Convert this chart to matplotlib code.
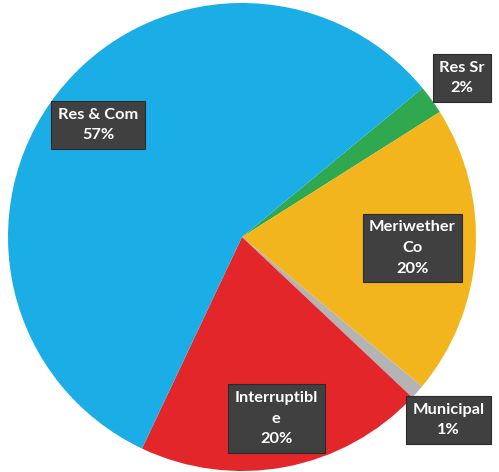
import matplotlib.pyplot as plt
import numpy as np

# Share of gas sales by customer class
labels = ["Res Sr", "Meriwether\nCo", "Municipal", "Interruptibl\ne", "Res & Com"]
shares = [2, 20, 1, 20, 57]
colors = ["#2fa84f", "#f3b51d", "#b4b4b4", "#e3262a", "#1badE6"]
label_dist = [1.16, 0.73, 1.18, 0.79, 0.78]

fig = plt.figure(figsize=(4.99, 4.72), dpi=100)
ax = fig.add_axes([0, 0, 1, 1])

wedges, _ = ax.pie(shares, colors=colors, startangle=39.5, counterclock=False,
                   radius=1.0, wedgeprops=dict(linewidth=0))

for w, lab, pct, d in zip(wedges, labels, shares, label_dist):
    ang = np.deg2rad((w.theta1 + w.theta2) / 2)
    ax.text(d * np.cos(ang), d * np.sin(ang), "%s\n%d%%" % (lab, pct),
            ha="center", va="center", color="white", fontsize=11.8,
            fontweight="bold", family="Lato", linespacing=1.6,
            bbox=dict(boxstyle="square,pad=0.4", fc="#404040", ec="#2a2a2a", lw=0.8))

ax.set_xlim(-242 / 234, 257 / 234)
ax.set_ylim(-235 / 234, 237 / 234)
ax.set_aspect("auto")
ax.axis("off")

fig.savefig("out.png", dpi=100)
